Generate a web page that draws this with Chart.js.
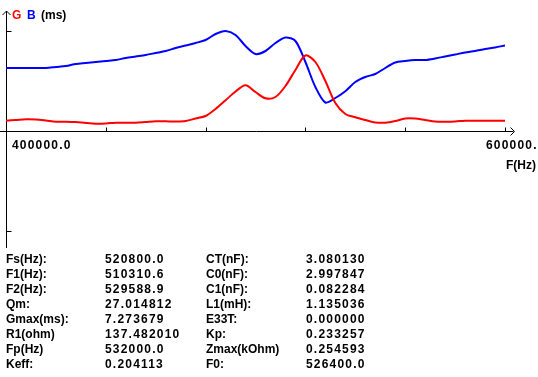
<!DOCTYPE html>
<html>
<head>
<meta charset="utf-8">
<script src="https://cdn.jsdelivr.net/npm/chart.js@4"></script>
<style>
  html, body { margin: 0; padding: 0; background: #fff; overflow: hidden; }
  #box { position: relative; width: 538px; height: 377px; }
</style>
</head>
<body>
<div id="box"><canvas id="MyChart"></canvas></div>
<script>
// frequency grid (Hz)
var freqs = [400000, 404000, 408000, 412000, 416000, 420000, 424000, 428000, 432000, 436000,
             440000, 444000, 448000, 452000, 456000, 460000, 464000, 468000, 472000, 476000,
             480000, 484000, 488000, 492000, 496000, 500000, 504000, 508000, 512000, 516000,
             520000, 524000, 528000, 532000, 536000, 540000, 544000, 548000, 552000, 556000,
             560000, 564000, 568000, 572000, 576000, 580000, 584000, 588000, 592000, 596000,
             600000];
// conductance G (ms)
var gValues = [1.03, 1.10, 1.17, 1.15, 1.05, 0.93, 0.93, 0.90, 0.80, 0.73,
               0.75, 0.83, 0.83, 0.83, 0.90, 0.97, 0.97, 0.95, 1.00, 1.25,
               1.50, 2.20, 3.07, 3.95, 4.57, 3.90, 3.27, 3.40, 4.50, 6.10,
               7.55, 6.90, 5.00, 2.80, 1.70, 1.37, 1.10, 0.85, 0.83, 1.00,
               1.25, 1.25, 1.10, 0.95, 0.93, 0.95, 1.03, 1.03, 1.03, 1.03,
               1.03];
// susceptance B (ms)
var bValues = [6.30, 6.30, 6.30, 6.30, 6.30, 6.40, 6.50, 6.70, 6.80, 6.90,
               7.00, 7.10, 7.30, 7.45, 7.60, 7.80, 8.00, 8.30, 8.55, 8.80,
               9.10, 9.70, 10.00, 9.60, 8.50, 7.70, 8.00, 8.80, 9.35, 9.00,
               6.90, 4.40, 2.85, 3.30, 3.97, 4.90, 5.40, 5.70, 6.30, 6.85,
               7.00, 7.10, 7.10, 7.25, 7.45, 7.65, 7.85, 8.00, 8.20, 8.35,
               8.55];

var xTicks = [440000, 480000, 520000, 560000, 600000];
var yTicks = [10, -10];
var xMinLabel = "400000.0";
var xMaxLabel = "600000.";
var xTitle = "F(Hz)";

var paramLabels1 = ["Fs(Hz):", "F1(Hz):", "F2(Hz):", "Qm:", "Gmax(ms):", "R1(ohm)", "Fp(Hz)", "Keff:"];
var paramValues1 = ["520800.0", "510310.6", "529588.9", "27.014812", "7.273679", "137.482010", "532000.0", "0.204113"];
var paramLabels2 = ["CT(nF):", "C0(nF):", "C1(nF):", "L1(mH):", "E33T:", "Kp:", "Zmax(kOhm)", "F0:"];
var paramValues2 = ["3.080130", "2.997847", "0.082284", "1.135036", "0.000000", "0.233257", "0.254593", "526400.0"];

const FONT = "bold 12px 'Liberation Sans', Arial, sans-serif";

function putText(ctx, txt, x, y, color, spacing) {
    ctx.fillStyle = color;
    ctx.letterSpacing = (spacing || 0) + "px";
    ctx.fillText(txt, x, y);
}

const axesPlugin = {
    id: "axes",
    beforeDatasetsDraw(chart) {
        const ctx = chart.ctx;
        const xs = chart.scales.x;
        const ys = chart.scales.y;
        const x0 = Math.round(xs.getPixelForValue(400000)) + 0.5;
        const y0 = Math.round(ys.getPixelForValue(0)) + 0.5;
        const xEnd = Math.round(xs.getPixelForValue(600000)) + 0.5;

        ctx.save();
        ctx.strokeStyle = "#000";
        ctx.lineWidth = 1;
        ctx.beginPath();
        // y axis + arrow
        ctx.moveTo(x0, 11);
        ctx.lineTo(x0, 248);
        ctx.moveTo(x0 - 4, 15);
        ctx.lineTo(x0, 11);
        ctx.lineTo(x0 + 4, 15);
        // x axis + arrow
        ctx.moveTo(0, y0);
        ctx.lineTo(xEnd + 8, y0);
        ctx.moveTo(xEnd + 5, y0 - 4);
        ctx.lineTo(xEnd + 9, y0);
        ctx.lineTo(xEnd + 5, y0 + 4);
        // ticks
        xTicks.forEach((t) => {
            let px = Math.round(xs.getPixelForValue(t)) + 0.5;
            ctx.moveTo(px, y0 - 4);
            ctx.lineTo(px, y0);
        });
        yTicks.forEach((t) => {
            let py = Math.round(ys.getPixelForValue(t)) + 0.5;
            ctx.moveTo(x0, py);
            ctx.lineTo(x0 + 5, py);
        });
        ctx.stroke();

        ctx.font = FONT;
        ctx.textBaseline = "alphabetic";
        // legend
        putText(ctx, "G", 12, 19, "#ff0000");
        putText(ctx, "B", 27, 19, "#0000ff");
        putText(ctx, "(ms)", 41, 19, "#000");
        // x labels
        putText(ctx, xMinLabel, 12, 149, "#000", 1.2);
        putText(ctx, xMaxLabel, 486, 149, "#000", 1.2);
        putText(ctx, xTitle, 506, 169, "#000");

        // parameter table
        for (let i = 0; i < paramLabels1.length; i++) {
            let by = 263 + i * 15;
            putText(ctx, paramLabels1[i], 6, by, "#000");
            putText(ctx, paramValues1[i], 105, by, "#000", 1.2);
            putText(ctx, paramLabels2[i], 206, by, "#000");
            putText(ctx, paramValues2[i], 306, by, "#000", 1.2);
        }
        ctx.restore();
    }
};

const ctx = document.getElementById("MyChart");

new Chart(ctx, {
    type: "line",
    data: {
        datasets: [{
            label: "G",
            data: freqs.map((f, i) => ({ x: f, y: gValues[i] })),
            borderColor: "#ff0000",
            borderWidth: 2,
            pointRadius: 0,
            tension: 0.3
        }, {
            label: "B",
            data: freqs.map((f, i) => ({ x: f, y: bValues[i] })),
            borderColor: "#0000ff",
            borderWidth: 2,
            pointRadius: 0,
            tension: 0.3
        }]
    },
    options: {
        responsive: true,
        maintainAspectRatio: false,
        animation: false,
        layout: { padding: { left: 6, right: 33, top: 11, bottom: 126 } },
        plugins: { legend: { display: false }, tooltip: { enabled: false } },
        scales: {
            x: { type: "linear", display: false, min: 400000, max: 600000 },
            y: { display: false, min: -12, max: 12 }
        }
    },
    plugins: [axesPlugin]
});
</script>
</body>
</html>
